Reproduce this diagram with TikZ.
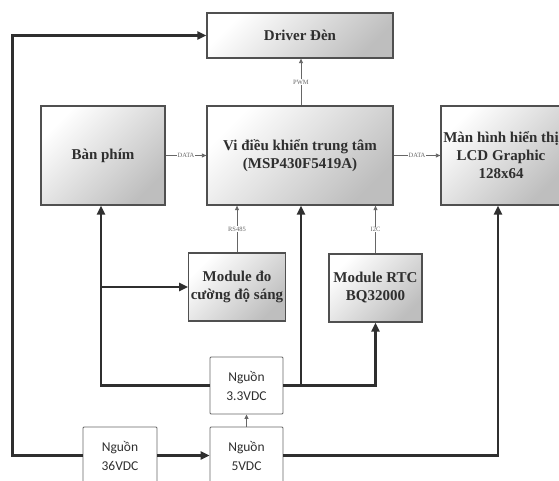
\documentclass[tikz,border=0pt]{standalone}
\usepackage{fontspec}
\setmainfont{Liberation Serif}
\newfontfamily\psufont{Carlito}
\usetikzlibrary{arrows.meta,positioning,calc}
\definecolor{ink}{HTML}{2F2F2F}
\definecolor{edge}{HTML}{505050}
\definecolor{inkgray}{HTML}{666666}
\definecolor{shadegray}{HTML}{BEBEBE}
\tikzset{
  blockbox/.style={draw=edge,line width=1.3pt,
                   top color=white,middle color=white,bottom color=shadegray,
                   shading angle=45,align=center,inner sep=2pt,
                   font=\fontsize{15}{18}\selectfont\bfseries,text=ink},
  psubox/.style={draw=inkgray,fill=white,line width=0.9pt,rounded corners=1pt,
                 minimum width=73pt,minimum height=57pt,align=center,
                 font=\psufont\fontsize{13.5}{19}\selectfont,text=ink},
  powarr/.style={-{Triangle[length=9pt,width=8pt]},line width=2.6pt,color=ink},
  sigarr/.style={-{Triangle[length=4.5pt,width=4pt]},line width=0.8pt,color=inkgray},
  siglabel/.style={fill=white,inner sep=0.6pt,text=inkgray,
                   font=\fontsize{6.5}{7}\selectfont}
}

\begin{document}
\begin{tikzpicture}[x=1pt,y=-1pt,>=Latex]
      \clip (0,0) rectangle (559,481);
      \fill[white] (0,0) rectangle (559,481);
      % blocks
      \node[blockbox,minimum width=186pt,minimum height=45pt] (driver) at (300,35.5) {Driver Đèn};
      \node[blockbox,minimum width=186pt,minimum height=99pt] (mcu) at (300,155.5)
        {Vi điều khiển trung tâm\\(MSP430F5419A)};
      \node[blockbox,minimum width=124pt,minimum height=99pt] (keys) at (103,155.5) {Bàn phím};
      \node[blockbox,minimum width=120pt,minimum height=99pt] (lcd) at (501,155.5)
        {Màn hình hiển thị\\LCD Graphic\\128x64};
      \node[blockbox,minimum width=94pt,minimum height=68pt] (sensor) at (237,287)
        {Module đo\\cường độ sáng};
      \node[blockbox,minimum width=93pt,minimum height=68pt] (rtc) at (375.5,288)
        {Module RTC\\BQ32000};
      % power supplies
      \node[psubox] (p33) at (246.5,385.5) {Nguồn\\3.3VDC};
      \node[psubox] (p5) at (246.5,455.5) {Nguồn\\5VDC};
      \node[psubox,minimum width=74pt] (p36) at (120,455.5) {Nguồn\\36VDC};
      % power wiring
      \draw[powarr] (p36.west) -- ++(-70,0) |- (driver.west);
      \draw[powarr] (p36.east) -- (p5.west);
      \draw[powarr] (p5.east) -| ([xshift=-3pt]lcd.south);
      \draw[powarr] (p33.west) -| ([xshift=-2pt]keys.south);
      \draw[powarr] ([xshift=-2pt]keys.south |- sensor.west) -- (sensor.west);
      \draw[powarr] (p33.east) -| (rtc.south);
      \draw[powarr] ([xshift=1pt]p33.east -| mcu.south) -- ([xshift=1pt]mcu.south);
      \draw[sigarr] (p5.north) -- (p33.south);
      % signals
      \draw[sigarr] ([xshift=1pt]mcu.north) -- node[siglabel] {PWM} ([xshift=1pt]driver.south);
      \draw[sigarr] (keys.east) -- node[siglabel] {DATA} (mcu.west);
      \draw[sigarr] (mcu.east) -- node[siglabel] {DATA} (lcd.west);
      \draw[sigarr] (sensor.north) -- node[siglabel] {RS485} (sensor.north |- mcu.south);
      \draw[sigarr] (rtc.north) -- node[siglabel] {I2C} (rtc.north |- mcu.south);
    \end{tikzpicture}
\end{document}
